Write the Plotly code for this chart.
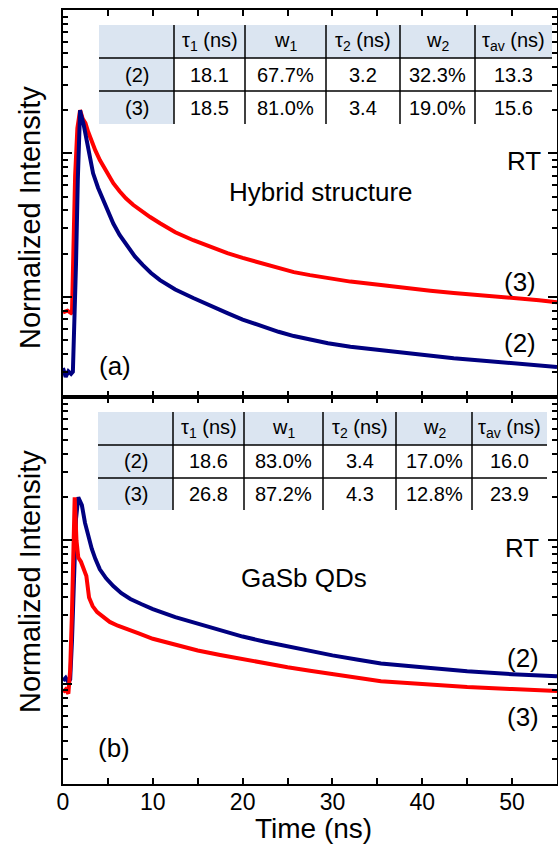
import plotly.graph_objects as go
import math

# ---------------- data ----------------
# Panel (a): Hybrid structure, normalized PL decay
t_a3 = [0, 0.5, 0.9, 1.0, 1.15, 1.35, 1.6, 1.9, 2.2, 2.5, 2.8, 3.2, 3.6, 4.1, 4.8, 5.6, 6.3,
        7.0, 7.8, 8.6, 9.7, 10.8, 12.5, 14.5, 16.4, 18.3, 20, 22, 24, 25.7, 27.5, 29.5, 32,
        35.4, 38, 40.9, 43.5, 46.5, 49, 51, 53, 55]
i_a3 = [0.0389, 0.0400, 0.0385, 0.0389, 0.10, 0.35, 0.75, 1.0, 0.871, 0.813, 0.708, 0.603,
        0.525, 0.449, 0.372, 0.310, 0.272, 0.243, 0.219, 0.201, 0.180, 0.163, 0.141, 0.124,
        0.111, 0.1007, 0.0933, 0.0859, 0.0794, 0.0743, 0.0708, 0.0676, 0.0638, 0.0603,
        0.0575, 0.0550, 0.0531, 0.0513, 0.0501, 0.0490, 0.0473, 0.0457]

t_a2 = [0, 0.3, 0.6, 0.9, 1.1, 1.25, 1.45, 1.65, 1.9, 2.0, 2.3, 2.7, 3.0, 3.35, 3.9, 4.5,
        5.0, 5.6, 6.3, 7.1, 8.0, 8.9, 9.8, 10.8, 12.5, 14.5, 16.4, 18.3, 20, 22, 24, 25.7,
        27.5, 29.5, 32, 35.4, 38, 40.9, 43.5, 46.5, 49, 51, 53, 55]
i_a2 = [0.0159, 0.0138, 0.0151, 0.0145, 0.0150, 0.030, 0.085, 0.33, 1.0, 0.933, 0.794,
        0.589, 0.468, 0.363, 0.288, 0.236, 0.195, 0.162, 0.135, 0.1135, 0.0955, 0.0832,
        0.0733, 0.0653, 0.0562, 0.0490, 0.0432, 0.0385, 0.0347, 0.0313, 0.0285, 0.0266,
        0.0251, 0.0237, 0.0224, 0.0211, 0.0202, 0.0193, 0.0186, 0.0180, 0.0174, 0.0170,
        0.0166, 0.0162]

# Panel (b): GaSb QDs
t_b3 = [0, 0.3, 0.6, 0.8, 1.0, 1.15, 1.3, 1.5, 1.7, 2.0, 2.3, 2.6, 2.9, 3.3, 3.8, 4.5,
        5.2, 6.1, 7.1, 8.5, 10, 12.5, 15, 17.5, 20, 22.5, 25, 27.5, 30, 32.7, 35.4, 40, 45,
        50, 55]
i_b3 = [0.0437, 0.0457, 0.0427, 0.0631, 0.158, 0.501, 1.0, 0.501, 0.380, 0.355, 0.316,
        0.282, 0.200, 0.174, 0.158, 0.1445, 0.135, 0.127, 0.121, 0.112, 0.103, 0.0933,
        0.0853, 0.0794, 0.0740, 0.0692, 0.0652, 0.0617, 0.0583, 0.0550, 0.0521, 0.0498,
        0.0474, 0.0459, 0.0445]

t_b2 = [0, 0.3, 0.6, 0.8, 1.0, 1.2, 1.45, 1.7, 2.1, 2.45, 2.8, 3.2, 3.6, 4.1, 4.8, 5.6,
        6.5, 7.5, 8.7, 10, 12.5, 15, 17.5, 20, 22.5, 25, 27.5, 30, 32.7, 35.4, 40, 45, 50,
        55]
i_b2 = [0.0525, 0.0550, 0.0513, 0.0537, 0.10, 0.316, 0.708, 1.0, 0.881, 0.662, 0.530,
        0.437, 0.372, 0.314, 0.272, 0.240, 0.214, 0.195, 0.180, 0.166, 0.146, 0.131,
        0.1175, 0.1067, 0.0982, 0.0910, 0.0845, 0.0789, 0.0738, 0.0693, 0.0652, 0.0611,
        0.0583, 0.0565]

# Fit tables
col_headers = ["τ<sub>1</sub> (ns)", "w<sub>1</sub>", "τ<sub>2</sub> (ns)", "w<sub>2</sub>", "τ<sub>av</sub> (ns)"]
row_labels = ["(2)", "(3)"]
tab_a = [["18.1", "67.7%", "3.2", "32.3%", "13.3"],
         ["18.5", "81.0%", "3.4", "19.0%", "15.6"]]
tab_b = [["18.6", "83.0%", "3.4", "17.0%", "16.0"],
         ["26.8", "87.2%", "4.3", "12.8%", "23.9"]]

x_ticks = [0, 10, 20, 30, 40, 50]

# ---------------- layout helpers ----------------
W, H = 558, 848
L, R, T, B = 63, 1, 10, 64
PW = W - L - R
PH = H - T - B
FONT = "Liberation Sans, Arial, sans-serif"
RED = "#ff0000"
NAVY = "#000080"
FILL = "#dbe5f1"
LW = 4


def px(xp):
    return (xp - L) / PW


def py(yp):
    return (H - B - yp) / PH


fig = go.Figure()

# top panel: blue drawn over red
fig.add_trace(go.Scatter(x=t_a3, y=i_a3, mode="lines", line=dict(color=RED, width=LW),
                         xaxis="x2", yaxis="y2", showlegend=False))
fig.add_trace(go.Scatter(x=t_a2, y=i_a2, mode="lines", line=dict(color=NAVY, width=LW),
                         xaxis="x2", yaxis="y2", showlegend=False))
# bottom panel: red drawn over blue
fig.add_trace(go.Scatter(x=t_b2, y=i_b2, mode="lines", line=dict(color=NAVY, width=LW),
                         xaxis="x", yaxis="y", showlegend=False))
fig.add_trace(go.Scatter(x=t_b3, y=i_b3, mode="lines", line=dict(color=RED, width=LW),
                         xaxis="x", yaxis="y", showlegend=False))

# log axis ticks: decades based on 0.5 x 10^k, minor at 2..9
bases = [0.005, 0.05, 0.5]
major_vals = [0.05, 0.5]
minor_vals = [b * m for b in bases for m in range(2, 10)]
yrange = [-2.0, math.log10(5.0)]

yax = dict(type="log", range=yrange, showline=True, linecolor="black", linewidth=2,
           mirror="ticks", ticks="inside", ticklen=9, tickwidth=1.5, tickcolor="black",
           tickmode="array", tickvals=major_vals, showticklabels=False, showgrid=False,
           zeroline=False, automargin=False,
           minor=dict(tickmode="array", tickvals=minor_vals, ticks="inside", ticklen=5,
                      tickwidth=1.5, tickcolor="black", showgrid=False))

xax = dict(range=[0, 55], showline=True, linecolor="black", linewidth=2, mirror="ticks",
           ticks="inside", ticklen=6, tickwidth=1.5, tickcolor="black",
           tickmode="array", tickvals=x_ticks, ticktext=[str(v) for v in x_ticks],
           showgrid=False, zeroline=False, automargin=False,
           minor=dict(dtick=5, tick0=0, ticks="inside", ticklen=6, tickwidth=1.5,
                      tickcolor="black", showgrid=False))

fig.update_layout(
    template="none",
    width=W, height=H, margin=dict(l=L, r=R, t=T, b=B, autoexpand=False),
    paper_bgcolor="white", plot_bgcolor="white",
    font=dict(family=FONT, color="black", size=20),
    xaxis=dict(xax, anchor="y", tickfont=dict(size=23, family=FONT), ticklabelstandoff=-4),
    yaxis=dict(yax, domain=[0, 0.5], anchor="x"),
    xaxis2=dict(xax, anchor="y2", showticklabels=False),
    yaxis2=dict(yax, domain=[0.5, 1], anchor="x2"),
)

annotations = []
shapes = []


def draw_table(cols, rows, data):
    x0, x1 = cols[0], cols[-1]
    shapes.append(dict(type="rect", xref="paper", yref="paper", layer="above",
                       x0=px(x0), x1=px(x1), y0=py(rows[-1]), y1=py(rows[0]),
                       fillcolor="white", line=dict(width=0)))
    shapes.append(dict(type="rect", xref="paper", yref="paper", layer="above",
                       x0=px(x0), x1=px(x1), y0=py(rows[1]), y1=py(rows[0]),
                       fillcolor=FILL, line=dict(width=0)))
    shapes.append(dict(type="rect", xref="paper", yref="paper", layer="above",
                       x0=px(x0), x1=px(cols[1]), y0=py(rows[-1]), y1=py(rows[1]),
                       fillcolor=FILL, line=dict(width=0)))
    for yv in rows[1:-1]:
        shapes.append(dict(type="line", xref="paper", yref="paper", layer="above",
                           x0=px(x0), x1=px(x1), y0=py(yv), y1=py(yv),
                           line=dict(color="black", width=1.5)))
    for xv in cols[1:-1]:
        shapes.append(dict(type="line", xref="paper", yref="paper", layer="above",
                           x0=px(xv), x1=px(xv), y0=py(rows[0]), y1=py(rows[-1]),
                           line=dict(color="black", width=1.5)))
    for j, h in enumerate(col_headers):
        cx = (cols[j + 1] + cols[j + 2]) / 2
        cy = (rows[0] + rows[1]) / 2
        annotations.append(dict(text=h, x=px(cx), y=py(cy), xref="paper", yref="paper",
                                showarrow=False, xanchor="center", yanchor="middle",
                                font=dict(size=20, family=FONT, color="black")))
    for i, lab in enumerate(row_labels):
        cy = (rows[i + 1] + rows[i + 2]) / 2
        annotations.append(dict(text=lab, x=px((cols[0] + cols[1]) / 2), y=py(cy),
                                xref="paper", yref="paper", showarrow=False,
                                xanchor="center", yanchor="middle",
                                font=dict(size=20, family=FONT, color="black")))
        for j, v in enumerate(data[i]):
            cx = (cols[j + 1] + cols[j + 2]) / 2
            annotations.append(dict(text=v, x=px(cx), y=py(cy), xref="paper", yref="paper",
                                    showarrow=False, xanchor="center", yanchor="middle",
                                    font=dict(size=20, family=FONT, color="black")))


draw_table([99, 174, 245, 326, 400, 475, 552], [25, 58, 91, 124], tab_a)
draw_table([98, 173, 244, 323, 396, 472, 547], [412, 445, 478, 510], tab_b)


def label(text, xp, ypix, size=26, angle=0):
    annotations.append(dict(text=text, x=px(xp), y=py(ypix), xref="paper", yref="paper",
                            showarrow=False, xanchor="center", yanchor="middle",
                            textangle=angle, font=dict(size=size, family=FONT, color="black")))


label("RT", 524, 161)
label("Hybrid structure", 321, 192)
label("(3)", 520, 282)
label("(2)", 520, 343)
label("(a)", 115, 366)

label("RT", 522, 548)
label("GaSb QDs", 304, 578)
label("(2)", 523, 658)
label("(3)", 523, 717)
label("(b)", 114, 748)

label("Normalized Intensity", 30, 218, size=29, angle=-90)
label("Normalized Intensity", 30, 582, size=29, angle=-90)
label("Time (ns)", 313, 828, size=28)

fig.update_layout(annotations=annotations, shapes=shapes)
fig.write_html("out.html", config={"displayModeBar": False},
               post_script="document.body.style.margin='0px';")
